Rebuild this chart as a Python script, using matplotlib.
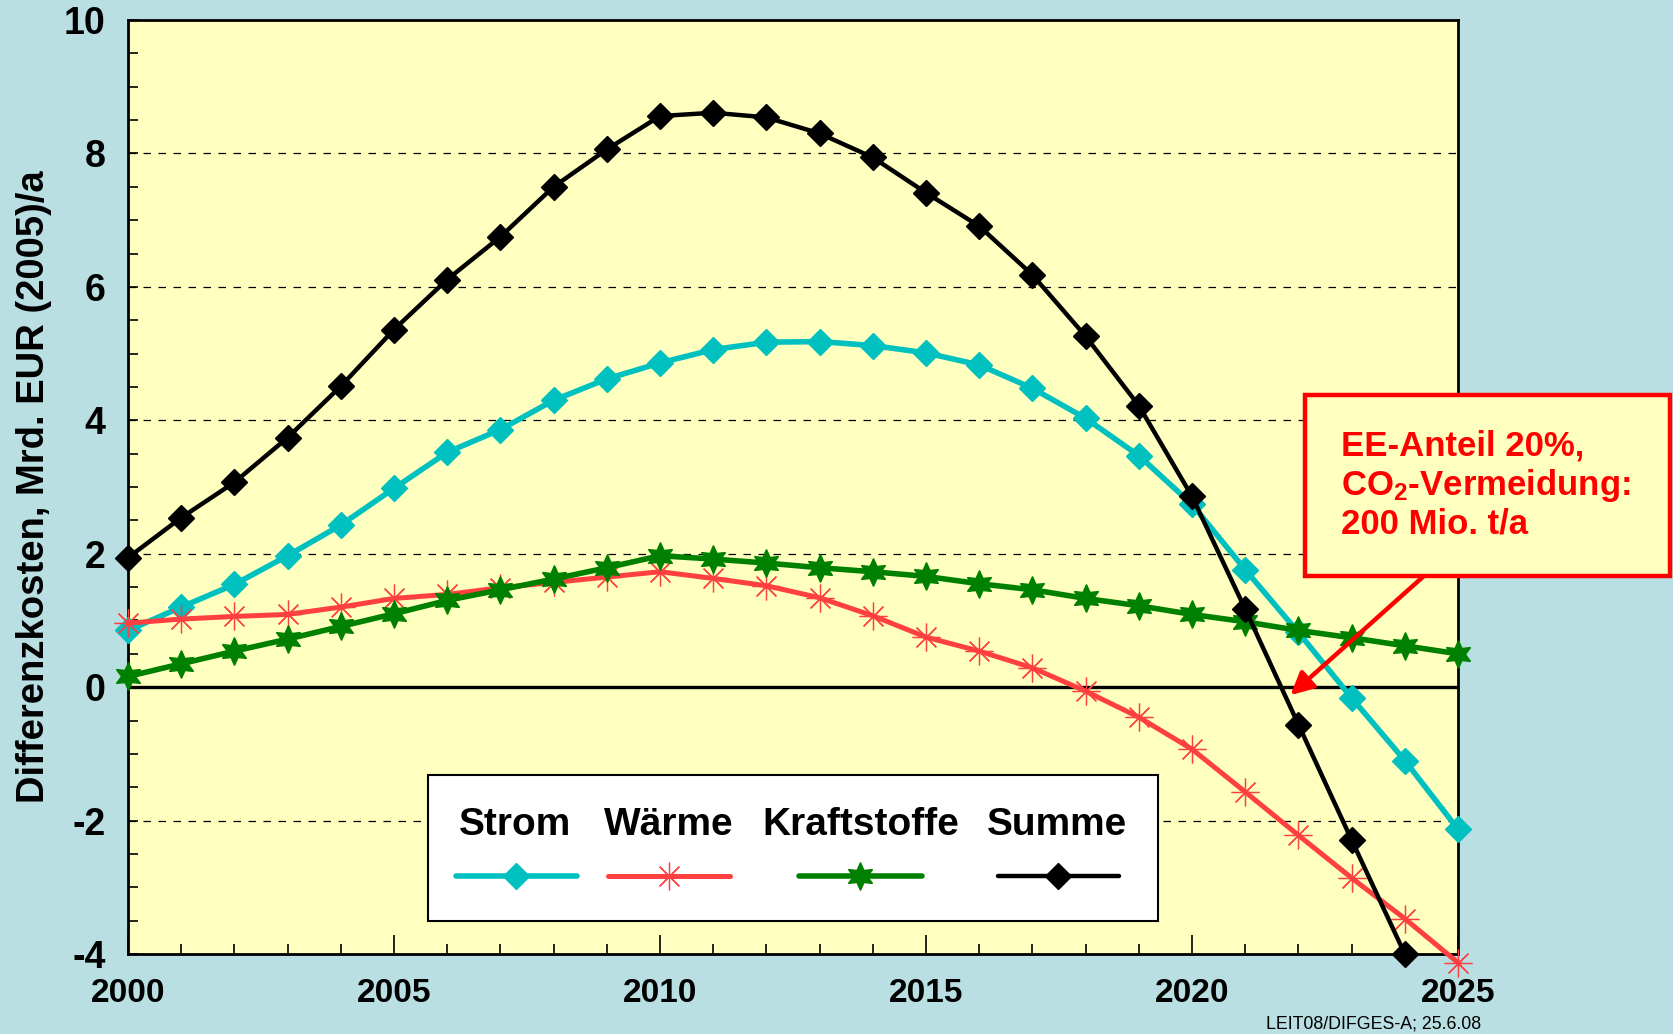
import matplotlib
matplotlib.use("Agg")
import matplotlib.pyplot as plt
import matplotlib.patches as mpatches
from matplotlib.lines import Line2D
import numpy as np

plt.rcParams['font.family'] = ['Liberation Sans', 'DejaVu Sans']
plt.rcParams['mathtext.fontset'] = 'custom'
plt.rcParams['mathtext.rm'] = 'Liberation Sans:bold'
plt.rcParams['mathtext.bf'] = 'Liberation Sans:bold'
plt.rcParams['mathtext.default'] = 'rm'

years = list(range(2000, 2026))
strom = [0.85, 1.20, 1.54, 1.97, 2.43, 2.98, 3.52, 3.86, 4.30, 4.62, 4.86, 5.06, 5.17,
         5.18, 5.12, 5.01, 4.83, 4.48, 4.03, 3.47, 2.74, 1.76, 0.82, -0.16, -1.10, -2.13]
waerme = [0.96, 1.02, 1.06, 1.09, 1.20, 1.33, 1.39, 1.49, 1.57, 1.65, 1.73, 1.63, 1.52,
          1.34, 1.07, 0.75, 0.54, 0.29, -0.06, -0.45, -0.93, -1.57, -2.22, -2.86, -3.47, -4.13]
kraft = [0.16, 0.35, 0.54, 0.72, 0.91, 1.10, 1.30, 1.46, 1.62, 1.79, 1.97, 1.92, 1.86,
         1.79, 1.73, 1.66, 1.55, 1.46, 1.33, 1.22, 1.09, 0.98, 0.85, 0.74, 0.62, 0.50]
summe = [1.94, 2.54, 3.07, 3.74, 4.51, 5.36, 6.11, 6.75, 7.50, 8.06, 8.56, 8.61, 8.54,
         8.30, 7.94, 7.41, 6.91, 6.18, 5.26, 4.22, 2.86, 1.17, -0.56, -2.29, -4.00, np.nan]

labels = ["Strom", "Wärme", "Kraftstoffe", "Summe"]
colors = ["#00C0C0", "#FF4040", "#008000", "#000000"]
x_ticks = [2000, 2005, 2010, 2015, 2020, 2025]
y_ticks = [-4, -2, 0, 2, 4, 6, 8, 10]

BG = "#B9DFE3"
PLOT_BG = "#FFFFC0"

fig = plt.figure(figsize=(16.73, 10.34), dpi=100, facecolor=BG)
ax = fig.add_axes([128/1673, 1-954/1034, (1458-128)/1673, (954-20)/1034])
ax.set_facecolor(PLOT_BG)

ax.set_xlim(2000, 2025)
ax.set_ylim(-4, 10)

# grid
for yv in [-2, 2, 4, 6, 8]:
    ax.axhline(yv, color="black", lw=0.9, ls=(0, (6, 6)), zorder=1)
ax.axhline(0, color="black", lw=2.4, zorder=2)

styles = [
    dict(marker="D", ms=13.5, mfc=colors[0], mec=colors[0], lw=4.0),
    dict(marker=(8, 2, 0), ms=20, mfc=colors[1], mec=colors[1], mew=0.9, lw=3.6),
    dict(marker=(6, 1, 0), ms=20, mfc=colors[2], mec=colors[2], lw=4.0),
    dict(marker="D", ms=13.5, mfc=colors[3], mec=colors[3], lw=3.2),
]
series = [strom, waerme, kraft, summe]
for s, c, st in zip(series, colors, styles):
    ax.plot(years, s, color=c, clip_on=False, zorder=3, **st)

# ticks
ax.set_xticks(x_ticks)
ax.set_xticks(years, minor=True)
ax.set_yticks(y_ticks)
ax.set_yticks(np.arange(-4, 10.01, 0.5), minor=True)
ax.tick_params(axis='x', which='major', direction='in', length=14, width=1.2, pad=17,
               labelsize=24, top=False)
ax.tick_params(axis='x', which='minor', direction='in', length=7, width=1.2, top=False)
ax.tick_params(axis='y', which='major', direction='in', length=7, width=1.2, pad=16,
               labelsize=27, right=False)
ax.tick_params(axis='y', which='minor', direction='in', length=7, width=1.2, right=False)
ax.set_yticklabels([str(v) for v in y_ticks])
for lab in ax.get_xticklabels() + ax.get_yticklabels():
    lab.set_fontweight('bold')

for sp in ax.spines.values():
    sp.set_linewidth(2.0)
    sp.set_color("black")

ax.set_ylabel("Differenzkosten, Mrd. EUR (2005)/a", fontsize=27.5, fontweight='bold')
ax.yaxis.set_label_coords(-0.057, 0.5)

# legend (custom layout: label above sample line)
lx0, lx1, ly0, ly1 = 0.2256, 0.7744, 0.0353, 0.1916
leg_box = mpatches.Rectangle((lx0, ly0), lx1 - lx0, ly1 - ly0,
                             transform=ax.transAxes, facecolor="white",
                             edgecolor="black", lw=1.5, zorder=5)
ax.add_patch(leg_box)
text_x = [0.291, 0.4068, 0.5511, 0.6985]
seg = [(0.2466, 0.3376), (0.3609, 0.4526), (0.5045, 0.597), (0.6541, 0.7451)]
for lab, tx, (sx0, sx1), c, st in zip(labels, text_x, seg, colors, styles):
    ax.text(tx, 0.1385, lab, transform=ax.transAxes, ha='center', va='center',
            fontsize=28, fontweight='bold', zorder=6)
    ax.add_line(Line2D([sx0, sx1], [0.0835, 0.0835], transform=ax.transAxes,
                       color=c, lw=st['lw'], solid_capstyle='round', zorder=6))
    ax.add_line(Line2D([(sx0+sx1)/2], [0.0835], transform=ax.transAxes,
                       marker=st['marker'], ms=st['ms'], mfc=st['mfc'], mec=st['mec'],
                       mew=st.get('mew', 1.0), ls='none', zorder=7))

# annotation box
box = mpatches.Rectangle((1305/1673, 1-576/1034), (1670-1305)/1673, (576-395)/1034,
                         transform=fig.transFigure, facecolor=PLOT_BG,
                         edgecolor="#FF0000", lw=3.2, zorder=10)
fig.patches.append(box)
fig.text(1341/1673, 1-485/1034,
         "EE-Anteil 20%,\nCO$_2$-Vermeidung:\n200 Mio. t/a",
         color="#FF0000", fontsize=25, fontweight='bold', ha='left', va='center',
         linespacing=1.15, zorder=11)
ax.annotate("", xy=(2021.85, -0.12), xycoords='data',
            xytext=(1425/1673, 1-575/1034), textcoords='figure fraction',
            arrowprops=dict(arrowstyle='-|>', color='#FF0000', lw=3.2,
                            mutation_scale=34, shrinkA=0, shrinkB=0),
            zorder=9)

fig.text(1374/1673, 1-1024/1034, "LEIT08/DIFGES-A; 25.6.08", fontsize=12.8,
         ha='center', va='center')

fig.savefig("out.png", dpi=100, facecolor=BG)
